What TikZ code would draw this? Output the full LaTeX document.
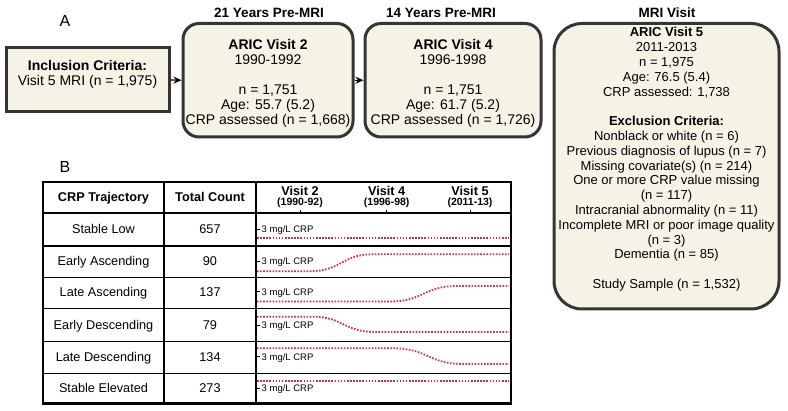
\documentclass[tikz,border=0pt]{standalone}
\usepackage{fontspec}
\setmainfont{Liberation Sans}
\usetikzlibrary{arrows.meta}
\definecolor{boxfill}{HTML}{F6F3E6}
\definecolor{boxline}{HTML}{353535}
\definecolor{crpred}{HTML}{C8333D}
\begin{document}
\begin{tikzpicture}[x=1pt,y=-1pt,
  panel/.style={font=\fontsize{16}{18}\selectfont, inner sep=0},
  ttl/.style={font=\bfseries\fontsize{13.5}{15}\selectfont, inner sep=0},
  sharpbox/.style={draw=boxline, fill=boxfill, line width=3pt, inner sep=0},
  visitbox/.style={draw=boxline, fill=boxfill, line width=3pt, rounded corners=16pt, inner sep=0},
  bigbox/.style={draw=boxline, fill=boxfill, line width=3pt, rounded corners=28pt, inner sep=0},
  boxtext/.style={align=center, inner sep=0, anchor=north, font=\fontsize{14}{15}\selectfont},
  v5text/.style={align=center, inner sep=0, anchor=north, font=\fontsize{13}{14.8}\selectfont},
  arr/.style={line width=1.2pt, -{Stealth[length=8pt,width=7pt]}},
  cell/.style={inner sep=0, anchor=base, font=\fontsize{12.7}{14}\selectfont},
  hcell/.style={inner sep=0, anchor=base, font=\bfseries\fontsize{12.7}{14}\selectfont},
  vyear/.style={inner sep=0, anchor=base, font=\bfseries\fontsize{10.5}{12}\selectfont},
  crplab/.style={inner sep=0, anchor=base west, font=\fontsize{9.5}{11}\selectfont},
  traj/.style={draw=crpred, line width=1.8pt, dash pattern=on 1.6pt off 1.5pt},
  grid/.style={line width=1.4pt, draw=black},
]
\useasboundingbox (0,0) rectangle (788,411);
% panel letters
\node[panel] (pa) at (65,21) {A};
\node[panel] (pb) at (65,167) {B};
% titles
\node[ttl] (t2) at (269,13) {21 Years Pre-MRI};
\node[ttl] (t4) at (441,13) {14 Years Pre-MRI};
\node[ttl] (t5) at (667,13) {MRI Visit};
% boxes
\node[sharpbox, minimum width=163pt, minimum height=64pt] (incl) at (87.5,80) {};
\node[visitbox, minimum width=170pt, minimum height=113.5pt] (v2) at (268,80.25) {};
\node[visitbox, minimum width=176pt, minimum height=113.5pt] (v4) at (453,80.25) {};
\node[bigbox, minimum width=225pt, minimum height=285.5pt] (v5) at (666.5,166.25) {};
% box texts
\node[boxtext] (inclt) at (87.5,60) {\textbf{Inclusion Criteria:}\\Visit 5 MRI (n = 1,975)};
\node[boxtext] (v2t) at (268,38.7) {\textbf{ARIC Visit 2}\\1990-1992\\[15pt]n = 1,751\\Age: 55.7 (5.2)\\CRP assessed (n = 1,668)};
\node[boxtext] (v4t) at (453,38.7) {\textbf{ARIC Visit 4}\\1996-1998\\[15pt]n = 1,751\\Age: 61.7 (5.2)\\CRP assessed (n = 1,726)};
\node[v5text] (v5t) at (666.5,27.3) {\textbf{ARIC Visit 5}\\2011-2013\\n = 1,975\\Age: 76.5 (5.4)\\CRP assessed: 1,738\\[14.8pt]
\textbf{Exclusion Criteria:}\\Nonblack or white (n = 6)\\Previous diagnosis of lupus (n = 7)\\Missing covariate(s) (n = 214)\\One or more CRP value missing\\(n = 117)\\Intracranial abnormality (n = 11)\\Incomplete MRI or poor image quality\\(n = 3)\\Dementia (n = 85)\\[14.8pt]Study Sample (n = 1,532)};
% arrows
\draw[arr] (incl.east) -- (v2.west);
\draw[arr] (v2.east) -- (v4.west);
% table grid
\draw[grid] (43,213) -- (511,213);
\foreach \yy in {246,277.5,308.5,341.5,373.3}{\draw[grid] (43,\yy) -- (511,\yy);}
\draw[grid] (164,182) -- (164,403.5);
\draw[grid] (256,182) -- (256,403.5);
\draw[line width=2.4pt] (43,182) rectangle (511,403.5);
% header ticks
\foreach \xx in {300,386.7,470}{\draw[line width=0.8pt] (\xx,213) -- (\xx,210);}
% header texts
\node[hcell] (hc1) at (103.5,202) {CRP Trajectory};
\node[hcell] (hc2) at (210,202) {Total Count};
\node[hcell] (hv2) at (300,195.5) {Visit 2};
\node[hcell] (hv4) at (386.7,195.5) {Visit 4};
\node[hcell] (hv5) at (470,195.5) {Visit 5};
\node[vyear] (yv2) at (300,206) {(1990-92)};
\node[vyear] (yv4) at (386.7,206) {(1996-98)};
\node[vyear] (yv5) at (470,206) {(2011-13)};
% row texts
\foreach \nm/\cnt/\yc [count=\i] in {Stable Low/657/229.5, Early Ascending/90/261.5, Late Ascending/137/292.5, Early Descending/79/325, Late Descending/134/357, Stable Elevated/273/388.5}{
  \node[cell] (rn\i) at (103.5,\yc+4.5) {\nm};
  \node[cell] (rc\i) at (210,\yc+4.5) {\cnt};
}
% crp labels and ticks
\foreach \yl [count=\i] in {229.3,261.5,291.7,325,356.7,388.3}{
  \draw[line width=0.7pt] (256,\yl) -- (259.5,\yl);
  \node[crplab] (cl\i) at (261.5,\yl+3.4) {3 mg/L CRP};
}
% trajectories
\draw[traj] (257,238.3) -- (509,238.3);
\draw[traj] (257,271.2) -- (310,271.2) .. controls (341.5,271.2) and (341.5,254.3) .. (373,254.3) -- (509,254.3);
\draw[traj] (257,301.5) -- (390,301.5) .. controls (423.5,301.5) and (423.5,286) .. (457,286) -- (509,286);
\draw[traj] (257,316.7) -- (312,316.7) .. controls (343.5,316.7) and (343.5,332) .. (375,332) -- (509,332);
\draw[traj] (257,348.3) -- (393,348.3) .. controls (428,348.3) and (428,364) .. (463,364) -- (509,364);
\draw[traj] (257,381) -- (509,381);
\end{tikzpicture}
\end{document}
